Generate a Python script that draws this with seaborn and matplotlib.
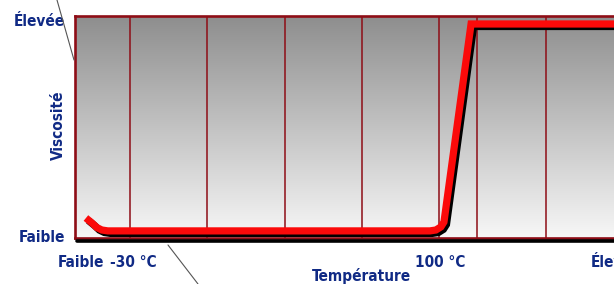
import numpy as np
import matplotlib
matplotlib.use("Agg")
import matplotlib.pyplot as plt
import matplotlib.patheffects as pe
from matplotlib.lines import Line2D
import seaborn as sns

# curve: temperature (°C-like units) vs viscosity (0-100 scale)
temp = [-48.5, -46.0, -43.9, -41.8, -39.3, 96.2, 98.7, 100.8, 102.1, 113.5, 215.0]
visc = [9.0, 6.8, 4.7, 3.6, 3.2, 3.2, 3.6, 5.0, 7.2, 96.4, 96.4]

grid_temp = [-30, 2.4, 35.2, 67.6, 100, 116, 145, 177.4]

xtick_pos = [-50.5, -28.5, 100.4, 174.5]
xtick_labels = ["Faible", "-30 °C", "100 °C", "Élevée"]
ytick_pos = [1, 98]
ytick_labels = ["Faible", "Élevée"]

NAVY = "#102a85"
DARKRED = "#8e0d16"
W, H = 614, 284


def main():
    sns.set_style("white")
    plt.rcParams["font.family"] = ["DejaVu Sans"]

    fig = plt.figure(figsize=(W / 100, H / 100), dpi=100)
    left, right, top, bottom = 75, 700, 16, 238
    ax = fig.add_axes([left / W, 1 - bottom / H, (right - left) / W, (bottom - top) / H])
    ax.set_xlim(-53.1, 209.8)
    ax.set_ylim(0, 100)

    # gray gradient background
    grad = np.linspace(0, 1, 256).reshape(-1, 1)
    ax.imshow(grad, cmap=matplotlib.colors.LinearSegmentedColormap.from_list(
        "g", ["#8e8e8e", "#f7f7f7"]), aspect="auto",
        extent=[-53.1, 209.8, 0, 100], origin="upper", zorder=0)

    for t in grid_temp:
        ax.axvline(t, color=DARKRED, lw=1.1, zorder=1)

    sns.lineplot(x=temp, y=visc, ax=ax, color="#fb0a0a", lw=5.2, sort=False,
                 estimator=None, solid_joinstyle="miter", solid_capstyle="butt",
                 path_effects=[pe.SimpleLineShadow(offset=(1.8, -1.8), shadow_color="black",
                                                   alpha=1.0, rho=1),
                               pe.Normal()], zorder=3)

    for s in ax.spines.values():
        s.set_color(DARKRED)
        s.set_linewidth(1.9)
        s.set_zorder(4)
    # shadow under the bottom edge
    fig.add_artist(Line2D([(left + 2) / W, 1], [1 - (bottom + 3) / H] * 2,
                          transform=fig.transFigure, color="black", lw=2.6))

    font = dict(fontsize=11, fontweight="bold", fontstretch="condensed", color=NAVY)
    ax.set_xticks(xtick_pos)
    ax.set_xticklabels(xtick_labels, **font)
    ax.set_yticks(ytick_pos)
    ax.set_yticklabels(ytick_labels, **font)
    ax.tick_params(axis="x", length=0, pad=12)
    ax.tick_params(axis="y", length=0, pad=7)

    fig.text(58 / W, 1 - 125 / H, "Viscosité", rotation=90, ha="center", va="center", **font)
    fig.text(361 / W, 1 - 276 / H, "Température", ha="center", va="center", **font)

    # thin decorative leader lines
    fig.add_artist(Line2D([57 / W, 74 / W], [1, 1 - 60 / H], transform=fig.transFigure,
                          color="#555555", lw=0.8))
    fig.add_artist(Line2D([168 / W, 198 / W], [1 - 245 / H, 1 - 284 / H],
                          transform=fig.transFigure, color="#555555", lw=0.8))

    fig.savefig("out.png", dpi=100)


if __name__ == "__main__":
    main()
